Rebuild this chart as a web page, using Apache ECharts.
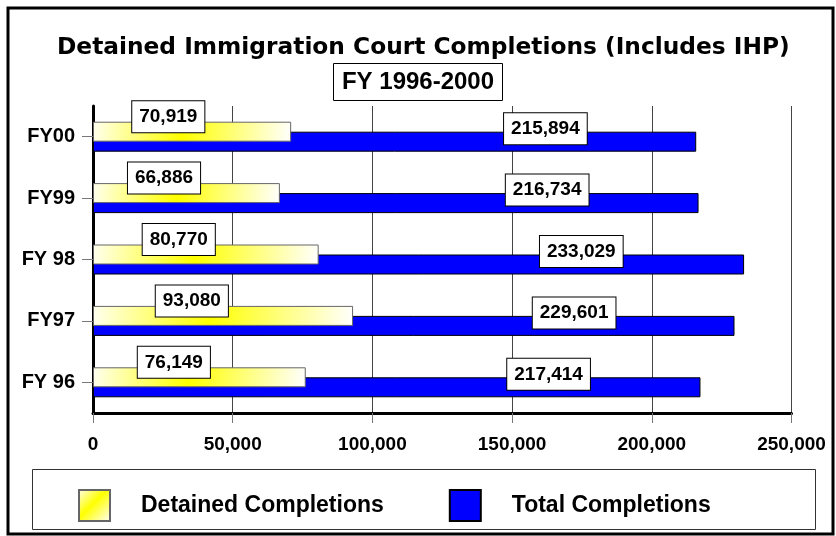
<!DOCTYPE html>
<html>
<head>
<meta charset="utf-8">
<script src="https://cdn.jsdelivr.net/npm/echarts@6/dist/echarts.min.js"></script>
<style>
html,body{margin:0;padding:0;background:#fff;}
#chart{width:836px;height:536px;}
</style>
</head>
<body>
<div id="chart"></div>
<script>
var categories = ['FY 96', 'FY97', 'FY 98', 'FY99', 'FY00'];
var detainedCompletions = [76149, 93080, 80770, 66886, 70919];
var totalCompletions = [217414, 229601, 233029, 216734, 215894];
var seriesNames = ['Detained Completions', 'Total Completions'];
var titleText = 'Detained Immigration Court Completions (Includes IHP)';
var subtitleText = 'FY 1996-2000';
var xTicks = [0, 50000, 100000, 150000, 200000, 250000];

var FONT = "'Liberation Sans', Arial, sans-serif";
var TITLE_FONT = "'DejaVu Sans', 'Liberation Sans', sans-serif";
function fmt(v) { return Number(v).toLocaleString('en-US'); }

var yellowGrad = new echarts.graphic.LinearGradient(0, 0, 1, 1, [
  { offset: 0, color: '#fffff0' },
  { offset: 0.45, color: '#ffff00' },
  { offset: 1, color: '#ffffff' }
]);

var labelBox = {
  show: true,
  formatter: function (p) { return fmt(p.value); },
  fontFamily: FONT,
  fontWeight: 'bold',
  fontSize: 19,
  color: '#000',
  backgroundColor: '#fff',
  borderColor: '#000',
  borderWidth: 1,
  padding: [6, 7, 6, 7],
  align: 'center',
  verticalAlign: 'middle'
};

var chart = echarts.init(document.getElementById('chart'), null, { renderer: 'canvas' });
chart.setOption({
  animation: false,
  backgroundColor: '#fff',
  title: [
    {
      text: titleText,
      left: 52,
      top: 31,
      textStyle: { fontFamily: TITLE_FONT, fontWeight: 'bold', fontSize: 23.3, color: '#000' }
    },
    {
      text: subtitleText,
      left: 'center',
      top: 63,
      padding: [6, 9, 6, 9],
      backgroundColor: '#fff',
      borderColor: '#000',
      borderWidth: 1,
      textStyle: { fontFamily: FONT, fontWeight: 'bold', fontSize: 24, color: '#000', lineHeight: 26 }
    }
  ],
  legend: {
    data: seriesNames,
    left: 73,
    top: 484,
    itemWidth: 31,
    itemHeight: 31,
    itemGap: 65,
    icon: 'rect',
    textStyle: { fontFamily: FONT, fontWeight: 'bold', fontSize: 23, color: '#000', padding: [0, 0, 0, 26] }
  },
  grid: { left: 93, right: 44.5, top: 106, bottom: 123, containLabel: false },
  xAxis: {
    type: 'value',
    min: xTicks[0],
    max: xTicks[xTicks.length - 1],
    interval: xTicks[1] - xTicks[0],
    axisLine: { show: true, lineStyle: { color: '#000', width: 3 } },
    axisTick: { show: true, length: 10, lineStyle: { color: '#777', width: 1 } },
    splitLine: { show: true, lineStyle: { color: '#444', width: 1 } },
    axisLabel: {
      margin: 22,
      fontFamily: FONT, fontWeight: 'bold', fontSize: 19, color: '#000',
      formatter: function (v) { return fmt(v); }
    }
  },
  yAxis: {
    type: 'category',
    data: categories,
    axisLine: { show: true, lineStyle: { color: '#000', width: 3 } },
    axisTick: { show: true, alignWithLabel: true, length: 11, lineStyle: { color: '#777', width: 1 } },
    splitLine: { show: false },
    axisLabel: { margin: 18, fontFamily: FONT, fontWeight: 'bold', fontSize: 20, color: '#000' }
  },
  series: [
    {
      name: seriesNames[0],
      type: 'bar',
      data: detainedCompletions,
      barWidth: 20,
      barGap: '-50%',
      z: 3,
      itemStyle: { color: yellowGrad, borderColor: '#666', borderWidth: 1 },
      label: Object.assign({}, labelBox, { position: ['38%', -5] })
    },
    {
      name: seriesNames[1],
      type: 'bar',
      data: totalCompletions,
      barWidth: 20,
      z: 2,
      itemStyle: { color: '#0000ff', borderColor: '#000', borderWidth: 1 },
      label: Object.assign({}, labelBox, { position: ['75%', -3] })
    }
  ],
  graphic: [
    {
      type: 'rect', silent: true, z: -1,
      shape: { x: 32.5, y: 469.5, width: 783, height: 60 },
      style: { fill: '#fff', stroke: '#333', lineWidth: 1 }
    },
    {
      type: 'rect', silent: true, z: 100,
      shape: { x: 8, y: 8, width: 825, height: 526 },
      style: { fill: null, stroke: '#000', lineWidth: 3 }
    }
  ]
});
</script>
</body>
</html>
